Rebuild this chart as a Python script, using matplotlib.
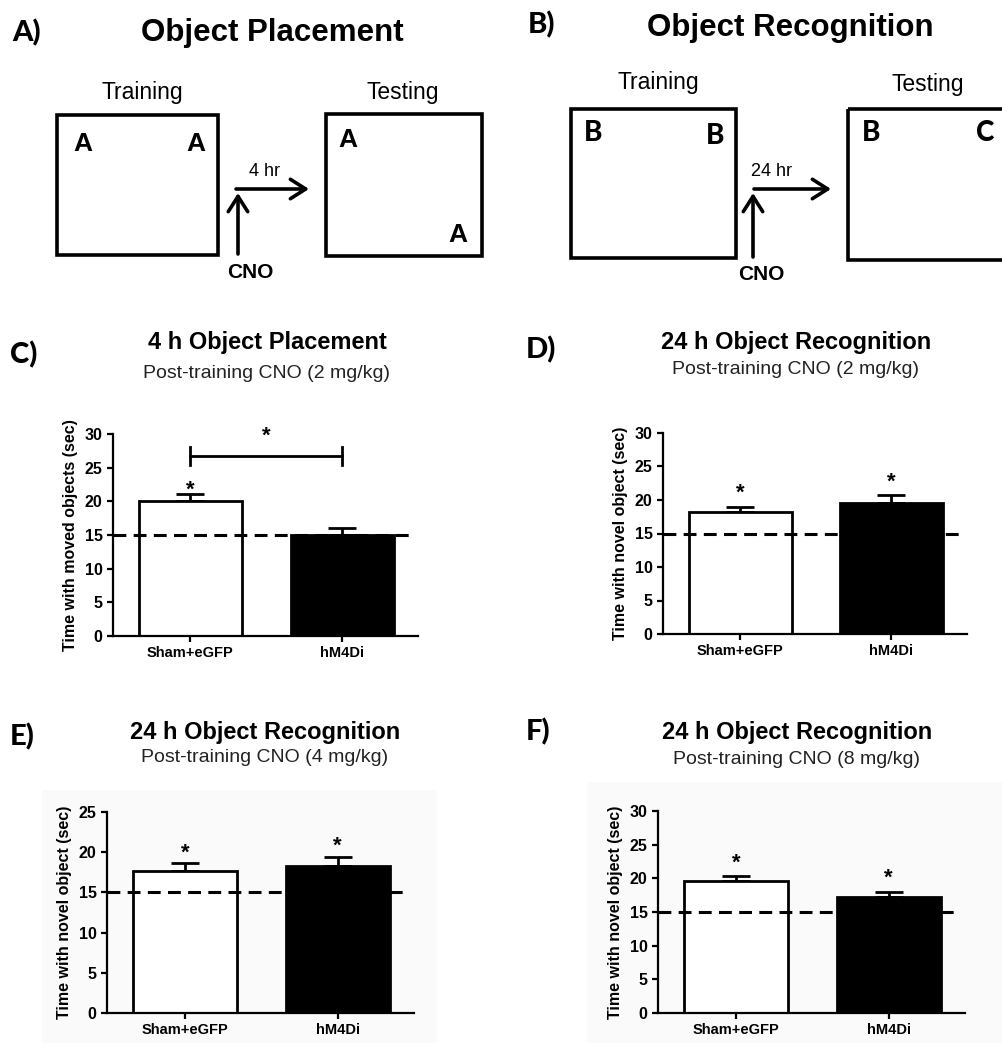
import matplotlib
matplotlib.use('Agg')
from matplotlib import pyplot as plt
from matplotlib.patches import Rectangle

plt.rcParams['font.family'] = ['Liberation Sans', 'DejaVu Sans']

# data
groups = ['Sham+eGFP', 'hM4Di']
chance = 15

c_mean = [20.0, 15.0]
c_sem = [1.1, 1.1]
c_sig = [True, False]
d_mean = [18.2, 19.5]
d_sem = [0.8, 1.2]
d_sig = [True, True]
e_mean = [17.6, 18.3]
e_sem = [1.0, 1.1]
e_sig = [True, True]
f_mean = [19.6, 17.3]
f_sem = [0.7, 0.7]
f_sig = [True, True]

W, H = 1003, 1043
fig = plt.figure(figsize=(W / 100, H / 100), dpi=100)

# overlay in pixel coordinates for schematic + titles
ov = fig.add_axes([0, 0, 1, 1], zorder=0)
ov.set_xlim(0, W)
ov.set_ylim(H, 0)
ov.axis('off')

letter_font = dict(family=['Lato', 'DejaVu Sans'], fontweight='black', fontsize=21)


def box(x0, y0, x1, y1):
    ov.add_patch(Rectangle((x0, y0), x1 - x0, y1 - y0, fill=False, lw=2.6, ec='black'))


def arrow(x0, y0, x1, y1):
    ov.annotate('', xy=(x1, y1), xytext=(x0, y0),
                arrowprops=dict(arrowstyle='->,head_length=0.55,head_width=0.35',
                                lw=2.6, color='black', mutation_scale=20,
                                shrinkA=0, shrinkB=0))


# ---- A) object placement schematic
ov.text(12, 33, 'A)', va='center', ha='left', **letter_font)
ov.text(272, 33, 'Object Placement', ha='center', va='center', fontsize=22.5, fontweight='bold')
ov.text(142, 93, 'Training', ha='center', va='center', fontsize=16.5)
ov.text(403, 93, 'Testing', ha='center', va='center', fontsize=16.5)
box(57, 115, 218, 255)
box(326, 114, 482, 256)
for x, y in [(83, 144), (196, 144), (348, 140), (458, 235)]:
    ov.text(x, y, 'A', ha='center', va='center', fontsize=19, fontweight='bold')
arrow(236, 189, 309, 189)
arrow(238, 254, 238, 193)
ov.text(265, 171, '4 hr', ha='center', va='center', fontsize=13)
ov.text(250, 272, 'CNO', ha='center', va='center', fontsize=15, fontweight='bold')

# ---- B) object recognition schematic
ov.text(528, 25, 'B)', va='center', ha='left', **letter_font)
ov.text(790, 28, 'Object Recognition', ha='center', va='center', fontsize=22.5, fontweight='bold')
ov.text(658, 83, 'Training', ha='center', va='center', fontsize=16.5)
ov.text(928, 85, 'Testing', ha='center', va='center', fontsize=16.5)
box(571, 109, 736, 258)
box(848, 109, 1010, 260)
for x, y, s in [(593, 133, 'B'), (715, 136, 'B'), (871, 133, 'B'), (985, 133, 'C')]:
    ov.text(x, y, s, ha='center', va='center', fontsize=20, fontweight='black',
            family=['Lato', 'DejaVu Sans'])
arrow(754, 189, 831, 189)
arrow(753, 257, 753, 193)
ov.text(772, 172, '24 hr', ha='center', va='center', fontsize=13)
ov.text(761, 274, 'CNO', ha='center', va='center', fontsize=15, fontweight='bold')

# faint backgrounds behind E and F graphs
ov.add_patch(Rectangle((42, 790), 395, 253, fc='#fafafa', ec='none'))
ov.add_patch(Rectangle((587, 782), 416, 261, fc='#fafafa', ec='none'))


def header(letter, lx, ly, cx, ty, sy, title, sub):
    ov.text(lx, ly, letter, va='center', ha='left', **letter_font)
    ov.text(cx, ty, title, ha='center', va='center', fontsize=17, fontweight='bold')
    ov.text(cx, sy, sub, ha='center', va='center', fontsize=14, color='#222222')


header('C)', 10, 355, 267, 343, 373, '4 h Object Placement', 'Post-training CNO (2 mg/kg)')
header('D)', 526, 350, 796, 343, 370, '24 h Object Recognition', 'Post-training CNO (2 mg/kg)')
header('E)', 10, 737, 265, 732, 757, '24 h Object Recognition', 'Post-training CNO (4 mg/kg)')
header('F)', 526, 732, 797, 733, 759, '24 h Object Recognition', 'Post-training CNO (8 mg/kg)')


def panel(rect_px, means, sems, sig, ymax, ylabel, star_off):
    x0, ytop, x1, ybot = rect_px
    ax = fig.add_axes([x0 / W, 1 - ybot / H, (x1 - x0) / W, (ybot - ytop) / H], zorder=2)
    ax.patch.set_visible(False)
    xs = [0, 1]
    ax.bar(xs, means, width=0.68, color=['white', 'black'], edgecolor='black',
           linewidth=2.0, zorder=2)
    ax.errorbar(xs, means, yerr=[[0, 0], sems], fmt='none', ecolor='black',
                elinewidth=2.0, capsize=10, capthick=2.0, zorder=1)
    ax.plot([-0.51, 1.45], [chance, chance], color='black', lw=2.2,
            dashes=(4.2, 2.4), zorder=3, clip_on=False)
    for x, m, s, g in zip(xs, means, sems, sig):
        if g:
            ax.text(x, m + s + star_off, '*', ha='center', va='center', fontsize=16,
                    fontweight='bold')
    ax.set_xlim(-0.51, 1.5)
    ax.set_ylim(0, ymax)
    ax.set_yticks(range(0, ymax + 1, 5))
    ax.set_xticks(xs)
    ax.set_xticklabels(groups)
    for sp in ['top', 'right']:
        ax.spines[sp].set_visible(False)
    for sp in ['left', 'bottom']:
        ax.spines[sp].set_linewidth(1.6)
    ax.tick_params(axis='both', direction='out', length=4, width=1.6, labelsize=11.5)
    ax.tick_params(axis='x', pad=3, labelsize=10.5)
    for lab in ax.get_xticklabels() + ax.get_yticklabels():
        lab.set_fontweight('bold')
    ax.set_ylabel(ylabel, fontsize=11.5, fontweight='bold', labelpad=5)
    return ax


axc = panel((113, 434, 418, 636), c_mean, c_sem, c_sig, 30, 'Time with moved objects (sec)', 0.6)
# significance bracket between groups in C
axc.plot([0, 1], [26.7, 26.7], color='black', lw=2.0)
axc.plot([0, 0], [25.4, 28.0], color='black', lw=2.0)
axc.plot([1, 1], [25.4, 28.0], color='black', lw=2.0)
axc.text(0.5, 29.6, '*', ha='center', va='center', fontsize=16, fontweight='bold')

panel((663, 433, 967, 634), d_mean, d_sem, d_sig, 30, 'Time with novel object (sec)', 2.0)
panel((107, 812, 414, 1013), e_mean, e_sem, e_sig, 25, 'Time with novel object (sec)', 1.3)
panel((658, 811, 965, 1013), f_mean, f_sem, f_sig, 30, 'Time with novel object (sec)', 2.0)

plt.savefig('out.png', dpi=100)
